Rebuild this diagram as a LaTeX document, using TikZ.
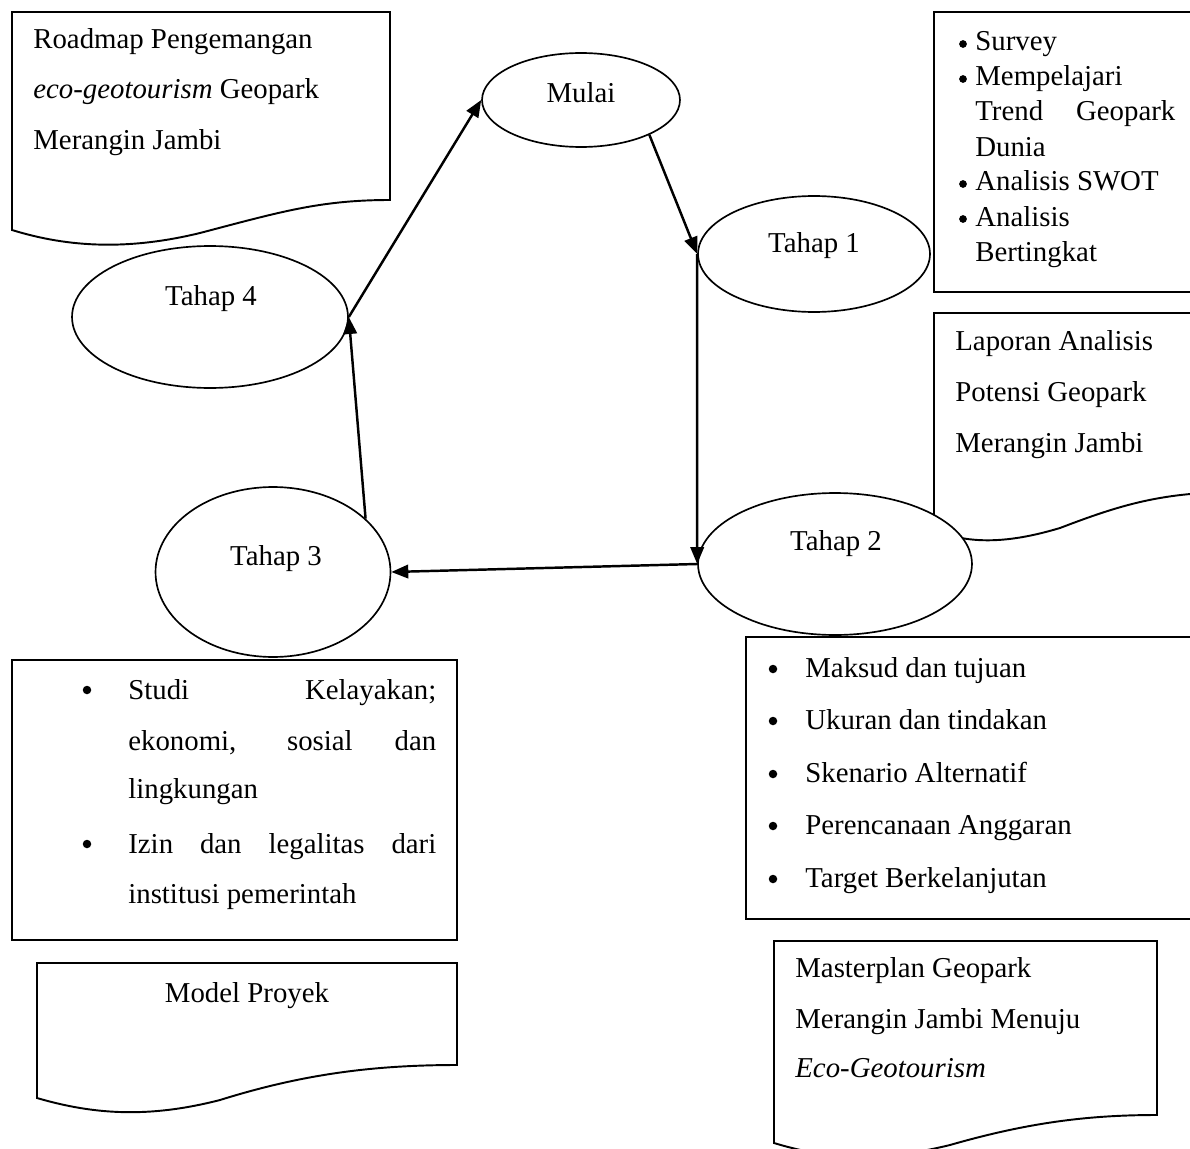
\documentclass[tikz,border=0pt]{standalone}
\usepackage{fontspec}
\setmainfont{Liberation Serif}
\usepackage{tikz}
\usetikzlibrary{shapes.geometric, arrows.meta, positioning}

\begin{document}
\begin{tikzpicture}[x=0.02cm, y=-0.02cm,
  >={Triangle[length=0.34cm, width=0.27cm]},
  stage/.style = {draw, ellipse, fill=white, line width=0.95pt,
                  inner sep=0pt},
  txt/.style   = {anchor=base west, inner sep=0pt,
                  font=\fontsize{16.4}{20}\selectfont},
  ctxt/.style  = {txt, anchor=base},
  dot/.style   = {circle, fill, inner sep=0pt, minimum size=0.17cm},
  sdot/.style  = {dot, minimum size=0.155cm},
  doc/.style   = {draw, line width=1.1pt},
  flow/.style  = {->, line width=1.4pt}
]
  \useasboundingbox (0,0) rectangle (1190,1149);
  \clip (0,0) rectangle (1190,1149);

  %% Roadmap document
  \draw[doc] (12,12) -- (390,12) -- (390,200)
    .. controls (320,200) and (280,212) .. (200,233)
    .. controls (130,250) and (70,248) .. (12,230) -- cycle;
  \node[txt] (road1) at (33,49)  {Roadmap Pengemangan};
  \node[txt] (road2) at (33,99)  {\textit{eco-geotourism} Geopark};
  \node[txt] (road3) at (33,150) {Merangin Jambi};

  %% Tahap 1 box
  \draw[doc] (934,12) rectangle (1250,292);
  \foreach \y in {51,86,191,226}
    \node[sdot] at (963,\y-7) {};
  \node[txt] (s11) at (975,51)  {Survey};
  \node[txt] (s12) at (975,86)  {Mempelajari};
  \node[txt] (s13) at (975,121) {\makebox[4cm][s]{Trend Geopark}};
  \node[txt] (s14) at (975,156) {Dunia};
  \node[txt] (s15) at (975,191) {Analisis SWOT};
  \node[txt] (s16) at (975,226) {Analisis};
  \node[txt] (s17) at (975,261) {Bertingkat};

  %% Laporan document
  \draw[doc] (1250,313) -- (934,313) -- (934,530)
    .. controls (970,545) and (1010,543) .. (1060,528)
    .. controls (1120,505) and (1160,493) .. (1230,492) -- (1250,492);
  \node[txt] (lap1) at (955,350) {Laporan Analisis};
  \node[txt] (lap2) at (955,401) {Potensi Geopark};
  \node[txt] (lap3) at (955,452) {Merangin Jambi};

  %% Tahap 3 box
  \draw[doc] (12,660) rectangle (457,940);
  \node[dot] (b31) at (87,699-9) {};
  \node[dot] (b32) at (87,853-9) {};
  \node[txt] (s31) at (128,699) {\makebox[6.16cm][s]{Studi Kelayakan;}};
  \node[txt] (s32) at (128,750) {\makebox[6.16cm][s]{ekonomi, sosial dan}};
  \node[txt] (s33) at (128,798) {lingkungan};
  \node[txt] (s34) at (128,853) {\makebox[6.16cm][s]{Izin dan legalitas dari}};
  \node[txt] (s35) at (128,903) {institusi pemerintah};

  %% Tahap 2 box
  \draw[doc] (1250,637) -- (746,637) -- (746,919) -- (1250,919);
  \foreach \y in {677,729,782,834,887}
    \node[dot] at (773,\y-8) {};
  \node[txt] (s21) at (805,677) {Maksud dan tujuan};
  \node[txt] (s22) at (805,729) {Ukuran dan tindakan};
  \node[txt] (s23) at (805,782) {Skenario Alternatif};
  \node[txt] (s24) at (805,834) {Perencanaan Anggaran};
  \node[txt] (s25) at (805,887) {Target Berkelanjutan};

  %% Model Proyek document
  \draw[doc] (37,963) -- (457,963) -- (457,1065)
    .. controls (370,1065) and (300,1075) .. (220,1100)
    .. controls (150,1118) and (95,1115) .. (37,1098) -- cycle;
  \node[ctxt] (model) at (247,1002) {Model Proyek};

  %% Masterplan document
  \draw[doc] (774,941) -- (1157,941) -- (1157,1115)
    .. controls (1090,1115) and (1030,1122) .. (950,1145)
    .. controls (880,1162) and (830,1160) .. (774,1143) -- cycle;
  \node[txt] (mp1) at (795,977)  {Masterplan Geopark};
  \node[txt] (mp2) at (795,1028) {Merangin Jambi Menuju};
  \node[txt] (mp3) at (795,1077) {\textit{Eco-Geotourism}};

  %% Stages
  \node[stage, minimum width=3.96cm, minimum height=1.88cm]
    (mulai) at (581,100) {};
  \node[stage, minimum width=4.64cm, minimum height=2.32cm]
    (tahap1) at (814,254) {};
  \node[stage, minimum width=5.48cm, minimum height=2.84cm]
    (tahap2) at (835,564) {};
  \node[stage, minimum width=4.7cm, minimum height=3.4cm]
    (tahap3) at (273,572) {};
  \node[stage, minimum width=5.52cm, minimum height=2.84cm]
    (tahap4) at (210,317) {};

  \node[ctxt] (mulaitxt) at (581,103) {Mulai};
  \node[ctxt] (t1txt) at (814,252) {Tahap 1};
  \node[ctxt] (t2txt) at (836,550) {Tahap 2};
  \node[ctxt] (t3txt) at (276,565) {Tahap 3};
  \node[ctxt] (t4txt) at (211,305) {Tahap 4};

  %% Flow
  \draw[flow] (mulai.-27) -- (tahap1.west);
  \draw[flow] (tahap1.west) -- (tahap2.west);
  \draw[flow] (tahap2.west) -- (tahap3.east);
  \draw[flow] (tahap3.30) -- (tahap4.east);
  \draw[flow] (tahap4.east) -- (mulai.west);
\end{tikzpicture}
\end{document}
